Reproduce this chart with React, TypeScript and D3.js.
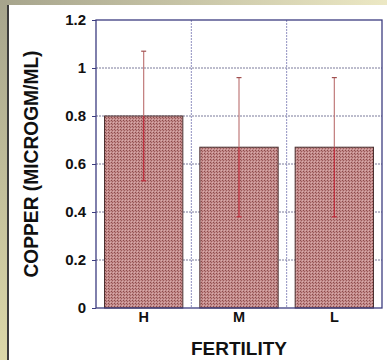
import React, { useEffect, useRef } from 'react';
import * as d3 from 'd3';

const categories = ['H', 'M', 'L'];
const means = [0.8, 0.67, 0.67];
const errors = [0.27, 0.29, 0.29];
const yTicks = [0, 0.2, 0.4, 0.6, 0.8, 1, 1.2];

const FONT = 'Liberation Sans, Arial, sans-serif';

const App = () => {
  const ref = useRef<SVGSVGElement>(null);

  useEffect(() => {
    const svg = d3.select(ref.current);
    svg.selectAll('*').remove();
    const width = 387;
    const height = 360;
    const margin = { top: 20, right: 5, bottom: 52, left: 96 };

    const defs = svg.append('defs');
    const topGrad = defs.append('linearGradient').attr('id', 'topGrad');
    topGrad.append('stop').attr('offset', '0%').attr('stop-color', '#a6a48c');
    topGrad.append('stop').attr('offset', '100%').attr('stop-color', '#ece8c4');
    const leftGrad = defs.append('linearGradient').attr('id', 'leftGrad')
      .attr('x1', 0).attr('y1', 0).attr('x2', 0).attr('y2', 1);
    leftGrad.append('stop').attr('offset', '0%').attr('stop-color', '#a6a48c');
    leftGrad.append('stop').attr('offset', '100%').attr('stop-color', '#dcd8a8');

    const pat = defs.append('pattern').attr('id', 'hatch')
      .attr('width', 3).attr('height', 3).attr('patternUnits', 'userSpaceOnUse');
    pat.append('rect').attr('width', 3).attr('height', 3).attr('fill', '#c48c8c');
    pat.append('rect').attr('width', 1).attr('height', 1).attr('fill', '#8a4a4a');
    pat.append('rect').attr('x', 1).attr('y', 1).attr('width', 1).attr('height', 1).attr('fill', '#9c5c5c');
    pat.append('rect').attr('x', 2).attr('y', 2).attr('width', 1).attr('height', 1).attr('fill', '#d8acac');

    // frame background
    svg.append('rect').attr('width', width).attr('height', height).attr('fill', '#ffffff');
    svg.append('rect').attr('width', width).attr('height', 5).attr('fill', 'url(#topGrad)');
    svg.append('rect').attr('width', 7).attr('height', height).attr('fill', 'url(#leftGrad)');
    svg.append('rect').attr('x', 7).attr('y', 5).attr('width', 2).attr('height', height - 5).attr('fill', '#3c3c3c');

    const x = d3.scaleBand()
      .domain(categories)
      .range([margin.left, width - margin.right])
      .paddingInner(0)
      .paddingOuter(0);

    const y = d3.scaleLinear()
      .domain([0, 1.2])
      .range([height - margin.bottom, margin.top]);

    // horizontal grid
    svg.append('g')
      .selectAll('line')
      .data(yTicks.slice(1, -1))
      .join('line')
      .attr('x1', margin.left)
      .attr('x2', width - margin.right)
      .attr('y1', d => y(d))
      .attr('y2', d => y(d))
      .attr('stroke', '#7a7a9a')
      .attr('stroke-width', 1)
      .attr('stroke-dasharray', '2,1');

    // vertical grid
    svg.append('g')
      .selectAll('line')
      .data(categories.slice(1))
      .join('line')
      .attr('x1', d => x(d)!)
      .attr('x2', d => x(d)!)
      .attr('y1', margin.top)
      .attr('y2', height - margin.bottom)
      .attr('stroke', '#9090c0')
      .attr('stroke-width', 1)
      .attr('stroke-dasharray', '2,1');

    const barPad = 8.5;
    svg.append('g')
      .selectAll('rect')
      .data(categories)
      .join('rect')
      .attr('x', d => x(d)! + barPad)
      .attr('y', (d, i) => y(means[i]))
      .attr('width', x.bandwidth() - barPad * 2)
      .attr('height', (d, i) => y(0) - y(means[i]))
      .attr('fill', 'url(#hatch)')
      .attr('stroke', '#4a3030')
      .attr('stroke-width', 1);

    // error bars
    const eb = svg.append('g');
    categories.forEach((c, i) => {
      const cx = x(c)! + x.bandwidth() / 2;
      const hi = y(means[i] + errors[i]);
      const lo = y(means[i] - errors[i]);
      eb.append('line')
        .attr('x1', cx).attr('x2', cx)
        .attr('y1', hi).attr('y2', y(means[i]))
        .attr('stroke', '#c07a7a').attr('stroke-width', 1.2);
      eb.append('line')
        .attr('x1', cx).attr('x2', cx)
        .attr('y1', y(means[i])).attr('y2', lo)
        .attr('stroke', '#c02a3a').attr('stroke-width', 1.2);
      eb.append('line')
        .attr('x1', cx - 2.5).attr('x2', cx + 2.5)
        .attr('y1', hi).attr('y2', hi)
        .attr('stroke', '#a05050').attr('stroke-width', 1.2);
      eb.append('line')
        .attr('x1', cx - 2.5).attr('x2', cx + 2.5)
        .attr('y1', lo).attr('y2', lo)
        .attr('stroke', '#c02a3a').attr('stroke-width', 1.2);
    });

    // plot frame
    svg.append('rect')
      .attr('x', margin.left)
      .attr('y', margin.top)
      .attr('width', width - margin.left - margin.right)
      .attr('height', height - margin.top - margin.bottom)
      .attr('fill', 'none')
      .attr('stroke', '#3c3c80')
      .attr('stroke-width', 1.3);

    const yAxis = svg.append('g')
      .attr('transform', `translate(${margin.left},0)`)
      .call(d3.axisLeft(y).tickValues(yTicks).tickFormat(d3.format('~g')).tickSize(4).tickPadding(6));
    yAxis.select('.domain').remove();
    yAxis.selectAll('line').attr('stroke', '#3c3c80');
    yAxis.selectAll('text')
      .style('font-family', FONT)
      .style('font-weight', 'bold')
      .style('font-size', '15px')
      .attr('fill', '#111');

    const xAxis = svg.append('g')
      .attr('transform', `translate(0,${height - margin.bottom})`)
      .call(d3.axisBottom(x).tickSize(0).tickPadding(4));
    xAxis.select('.domain').remove();
    xAxis.selectAll('text')
      .style('font-family', FONT)
      .style('font-weight', 'bold')
      .style('font-size', '14.5px')
      .attr('fill', '#111');

    svg.append('text')
      .attr('x', (margin.left + width - margin.right) / 2)
      .attr('y', 355)
      .attr('text-anchor', 'middle')
      .style('font-family', FONT)
      .style('font-weight', 'bold')
      .style('font-size', '18px')
      .attr('textLength', 96)
      .attr('lengthAdjust', 'spacingAndGlyphs')
      .attr('fill', '#111')
      .text('FERTILITY');

    svg.append('text')
      .attr('transform', `translate(38,164) rotate(-90)`)
      .attr('text-anchor', 'middle')
      .style('font-family', FONT)
      .style('font-weight', 'bold')
      .style('font-size', '19.5px')
      .attr('textLength', 227)
      .attr('lengthAdjust', 'spacingAndGlyphs')
      .attr('fill', '#111')
      .text('COPPER (MICROGM/ML)');
  }, []);

  return (
    <svg ref={ref} width={387} height={360} style={{ position: 'absolute', left: 0, top: 0 }} />
  );
};

export default App;
